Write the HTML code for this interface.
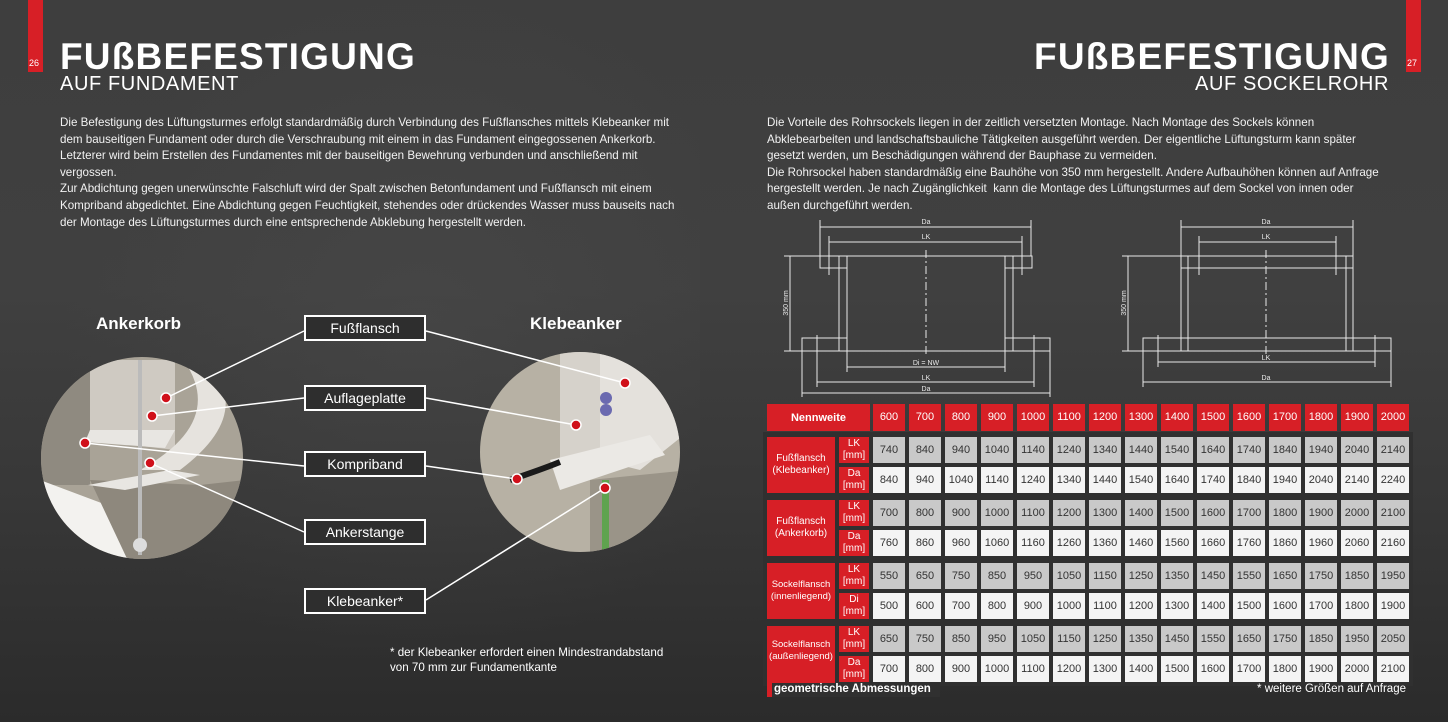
<!DOCTYPE html>
<html><head><meta charset="utf-8"><style>
*{margin:0;padding:0;box-sizing:border-box}
body{width:1448px;height:722px;overflow:hidden;position:relative;font-family:"Liberation Sans",sans-serif;color:#fff;
background:linear-gradient(180deg,#3e3e3e 0%,#404040 40%,#373737 70%,#2b2b2b 100%);}
.abs{position:absolute}
.t{font-weight:bold;font-size:37px;letter-spacing:1.2px;line-height:1}
.st{font-size:20px;line-height:1;letter-spacing:0.6px}
.p{font-size:11.6px;line-height:16.6px;white-space:nowrap;color:#f2f2f2}
.lbl{position:absolute;left:304px;width:122px;height:26px;border:2px solid #fff;background:#2e2e2e;font-size:14px;text-align:center;line-height:22px}
.row{position:absolute;left:873px;display:flex;gap:4px}
.row div{width:32px;height:26px;font-size:11px;text-align:center;line-height:26px;color:#333}
.g div{background:#c9c9c9}.w div{background:#f4f4f4}
.h div{background:#d71f26;color:#fff;height:27px;line-height:27px}
.red{background:#d71f26;position:absolute;color:#fff;text-align:center;font-size:10px;line-height:12px;display:flex;align-items:center;justify-content:center}
</style></head><body>
<div class="abs" style="left:0;top:0;width:700px;height:722px;background:radial-gradient(ellipse at 60% 45%,rgba(80,80,80,.35),rgba(0,0,0,0) 60%)"></div>
<div class="abs" style="left:28px;top:0;width:15px;height:72px;background:#d71f26"></div>
<div class="abs" style="left:29px;top:58px;font-size:9px">26</div>
<div class="abs" style="left:1406px;top:0;width:15px;height:72px;background:#d71f26"></div>
<div class="abs" style="left:1407px;top:58px;font-size:9px">27</div>
<div class="abs t" style="left:60px;top:38px">FUßBEFESTIGUNG</div>
<div class="abs st" style="left:60px;top:74px">AUF FUNDAMENT</div>
<div class="abs t" style="right:58px;top:38px">FUßBEFESTIGUNG</div>
<div class="abs st" style="right:59px;top:74px">AUF SOCKELROHR</div>
<div class="abs p" style="left:60px;top:115px">Die Befestigung des Lüftungsturmes erfolgt standardmäßig durch Verbindung des Fußflansches mittels Klebeanker mit<br>dem bauseitigen Fundament oder durch die Verschraubung mit einem in das Fundament eingegossenen Ankerkorb.<br>Letzterer wird beim Erstellen des Fundamentes mit der bauseitigen Bewehrung verbunden und anschließend mit<br>vergossen.<br>Zur Abdichtung gegen unerwünschte Falschluft wird der Spalt zwischen Betonfundament und Fußflansch mit einem<br>Kompriband abgedichtet. Eine Abdichtung gegen Feuchtigkeit, stehendes oder drückendes Wasser muss bauseits nach<br>der Montage des Lüftungsturmes durch eine entsprechende Abklebung hergestellt werden.</div>
<div class="abs p" style="left:767px;top:115px">Die Vorteile des Rohrsockels liegen in der zeitlich versetzten Montage. Nach Montage des Sockels können<br>Abklebearbeiten und landschaftsbauliche Tätigkeiten ausgeführt werden. Der eigentliche Lüftungsturm kann später<br>gesetzt werden, um Beschädigungen während der Bauphase zu vermeiden.<br>Die Rohrsockel haben standardmäßig eine Bauhöhe von 350 mm hergestellt. Andere Aufbauhöhen können auf Anfrage<br>hergestellt werden. Je nach Zugänglichkeit&nbsp; kann die Montage des Lüftungsturmes auf dem Sockel von innen oder<br>außen durchgeführt werden.</div>

<div class="abs" style="left:96px;top:314px;font-size:17px;font-weight:bold">Ankerkorb</div>
<div class="abs" style="left:530px;top:314px;font-size:17px;font-weight:bold">Klebeanker</div>

<svg class="abs" style="left:0;top:0" width="760" height="722">
<defs>
<clipPath id="c1"><circle cx="142" cy="458" r="101"/></clipPath>
<clipPath id="c2"><circle cx="580" cy="452" r="100"/></clipPath>
</defs>
<g clip-path="url(#c1)">
<rect x="40" y="355" width="205" height="210" fill="#a9a397"/>
<rect x="40" y="355" width="50" height="130" fill="#8f8a80"/>
<path d="M90 360 L175 360 L175 450 L90 440Z" fill="#cfcac2"/>
<path d="M180 355 Q230 420 140 470 L180 470 Q260 410 200 355Z" fill="#e6e3de"/>
<path d="M90 430 L175 430 L165 448 L85 442Z" fill="#e8e6e2"/>
<path d="M40 480 L120 510 L130 570 L40 570Z" fill="#f3f2ef"/>
<path d="M90 480 L200 485 L245 480 L245 565 L130 565 Z" fill="#8e887d"/>
<path d="M88 485 L170 470 L200 475 L125 490Z" fill="#e8e6e2"/>
<rect x="138" y="360" width="4" height="195" fill="#bbb"/>
<circle cx="140" cy="545" r="7" fill="#ddd"/>
</g>
<g clip-path="url(#c2)">
<rect x="478" y="350" width="205" height="205" fill="#b7b1a4"/>
<path d="M560 352 L600 352 L600 460 L560 460Z" fill="#d6d2cb"/>
<path d="M600 352 L690 352 L690 430 L640 470 L600 460Z" fill="#e4e1dc"/>
<path d="M550 460 L650 435 L665 455 L560 490Z" fill="#ebe9e5"/>
<path d="M590 480 L690 470 L690 555 L590 555Z" fill="#9a9488"/>
<path d="M510 480 Q540 470 560 462" stroke="#1a1a1a" stroke-width="6" fill="none"/>
<rect x="602" y="480" width="7" height="70" fill="#5fa34f"/>
<circle cx="606" cy="398" r="6" fill="#6b6ab0"/><circle cx="606" cy="410" r="6" fill="#6b6ab0"/>
</g>
<g stroke="#fff" stroke-width="1.5" fill="none">
<line x1="304" y1="331" x2="166" y2="398"/><line x1="426" y1="331" x2="625" y2="383"/>
<line x1="304" y1="398" x2="152" y2="416"/><line x1="426" y1="398" x2="576" y2="425"/>
<line x1="304" y1="466" x2="85" y2="443"/><line x1="426" y1="466" x2="517" y2="479"/>
<line x1="304" y1="532" x2="150" y2="463"/><line x1="426" y1="600" x2="605" y2="488"/>
</g>
<g fill="#d0101a" stroke="#fff" stroke-width="1.5">
<circle cx="166" cy="398" r="5"/><circle cx="152" cy="416" r="5"/><circle cx="85" cy="443" r="5"/><circle cx="150" cy="463" r="5"/>
<circle cx="625" cy="383" r="5"/><circle cx="576" cy="425" r="5"/><circle cx="517" cy="479" r="5"/><circle cx="605" cy="488" r="5"/>
</g>
</svg>
<div class="lbl" style="top:315px">Fußflansch</div>
<div class="lbl" style="top:385px">Auflageplatte</div>
<div class="lbl" style="top:451px">Kompriband</div>
<div class="lbl" style="top:519px">Ankerstange</div>
<div class="lbl" style="top:588px">Klebeanker*</div>
<div class="abs" style="left:390px;top:645px;font-size:11.6px;line-height:15px">* der Klebeanker erfordert einen Mindestrandabstand<br>von 70 mm zur Fundamentkante</div>

<svg class="abs" style="left:0;top:0" width="1448" height="722">
<g stroke="#e8e8e8" stroke-width="1" fill="none">
<rect x="820" y="256" width="27" height="12"/><rect x="1005" y="256" width="27" height="12"/>
<line x1="847" y1="256" x2="1005" y2="256"/>
<rect x="839" y="256" width="8" height="95"/><rect x="1005" y="256" width="8" height="95"/>
<rect x="802" y="338" width="45" height="13"/><rect x="1005" y="338" width="45" height="13"/>
<line x1="847" y1="351" x2="1005" y2="351"/>
<line x1="926" y1="250" x2="926" y2="356" stroke-dasharray="8 3 2 3"/>
<line x1="820" y1="220" x2="820" y2="256"/><line x1="1031" y1="220" x2="1031" y2="256"/>
<line x1="829" y1="236" x2="829" y2="275"/><line x1="1022" y1="236" x2="1022" y2="275"/>
<line x1="820" y1="227" x2="1031" y2="227"/><line x1="829" y1="242" x2="1022" y2="242"/>
<line x1="790" y1="256" x2="790" y2="351"/><line x1="784" y1="256" x2="820" y2="256"/><line x1="784" y1="351" x2="802" y2="351"/>
<line x1="847" y1="351" x2="847" y2="372"/><line x1="1005" y1="351" x2="1005" y2="372"/>
<line x1="817" y1="335" x2="817" y2="387"/><line x1="1034" y1="335" x2="1034" y2="387"/>
<line x1="802" y1="351" x2="802" y2="397"/><line x1="1050" y1="351" x2="1050" y2="397"/>
<line x1="847" y1="367" x2="1005" y2="367"/><line x1="817" y1="382" x2="1034" y2="382"/><line x1="802" y1="393" x2="1050" y2="393"/>
<rect x="1181" y="256" width="172" height="12"/>
<rect x="1181" y="256" width="7" height="95"/><rect x="1346" y="256" width="7" height="95"/>
<rect x="1143" y="338" width="248" height="13"/>
<line x1="1266" y1="250" x2="1266" y2="356" stroke-dasharray="8 3 2 3"/>
<line x1="1181" y1="220" x2="1181" y2="256"/><line x1="1353" y1="220" x2="1353" y2="256"/>
<line x1="1199" y1="236" x2="1199" y2="275"/><line x1="1336" y1="236" x2="1336" y2="275"/>
<line x1="1181" y1="227" x2="1353" y2="227"/><line x1="1199" y1="242" x2="1336" y2="242"/>
<line x1="1128" y1="256" x2="1128" y2="351"/><line x1="1122" y1="256" x2="1181" y2="256"/><line x1="1122" y1="351" x2="1143" y2="351"/>
<line x1="1158" y1="335" x2="1158" y2="367"/><line x1="1375" y1="335" x2="1375" y2="367"/>
<line x1="1143" y1="351" x2="1143" y2="387"/><line x1="1391" y1="351" x2="1391" y2="387"/>
<line x1="1158" y1="362" x2="1375" y2="362"/><line x1="1143" y1="382" x2="1391" y2="382"/>
</g>
<g fill="#e8e8e8" font-family="Liberation Sans, sans-serif" font-size="7" text-anchor="middle">
<text x="926" y="224">Da</text><text x="926" y="239">LK</text><text x="926" y="365">Di = NW</text><text x="926" y="380">LK</text><text x="926" y="391">Da</text>
<text x="1266" y="224">Da</text><text x="1266" y="239">LK</text><text x="1266" y="360">LK</text><text x="1266" y="380">Da</text>
<text transform="translate(788,303) rotate(-90)">350 mm</text><text transform="translate(1126,303) rotate(-90)">350 mm</text>
</g>
</svg>

<div class="abs" style="left:763px;top:432px;width:650px;height:254px;background:#303030"></div>
<div class="red" style="left:767px;top:404px;width:103px;height:27px;font-size:11px;font-weight:bold">Nennweite</div>
<div class="row h" style="top:404px"><div>600</div><div>700</div><div>800</div><div>900</div><div>1000</div><div>1100</div><div>1200</div><div>1300</div><div>1400</div><div>1500</div><div>1600</div><div>1700</div><div>1800</div><div>1900</div><div>2000</div></div>

<div class="red" style="left:767px;top:437px;width:68px;height:56px">Fußflansch<br>(Klebeanker)</div>
<div class="red" style="left:839px;top:437px;width:30px;height:26px">LK<br>[mm]</div>
<div class="red" style="left:839px;top:467px;width:30px;height:26px">Da<br>[mm]</div>
<div class="row g" style="top:437px"><div>740</div><div>840</div><div>940</div><div>1040</div><div>1140</div><div>1240</div><div>1340</div><div>1440</div><div>1540</div><div>1640</div><div>1740</div><div>1840</div><div>1940</div><div>2040</div><div>2140</div></div>
<div class="row w" style="top:467px"><div>840</div><div>940</div><div>1040</div><div>1140</div><div>1240</div><div>1340</div><div>1440</div><div>1540</div><div>1640</div><div>1740</div><div>1840</div><div>1940</div><div>2040</div><div>2140</div><div>2240</div></div>

<div class="red" style="left:767px;top:500px;width:68px;height:56px">Fußflansch<br>(Ankerkorb)</div>
<div class="red" style="left:839px;top:500px;width:30px;height:26px">LK<br>[mm]</div>
<div class="red" style="left:839px;top:530px;width:30px;height:26px">Da<br>[mm]</div>
<div class="row g" style="top:500px"><div>700</div><div>800</div><div>900</div><div>1000</div><div>1100</div><div>1200</div><div>1300</div><div>1400</div><div>1500</div><div>1600</div><div>1700</div><div>1800</div><div>1900</div><div>2000</div><div>2100</div></div>
<div class="row w" style="top:530px"><div>760</div><div>860</div><div>960</div><div>1060</div><div>1160</div><div>1260</div><div>1360</div><div>1460</div><div>1560</div><div>1660</div><div>1760</div><div>1860</div><div>1960</div><div>2060</div><div>2160</div></div>

<div class="red" style="left:767px;top:563px;width:68px;height:56px;font-size:9.5px">Sockelflansch<br>(innenliegend)</div>
<div class="red" style="left:839px;top:563px;width:30px;height:26px">LK<br>[mm]</div>
<div class="red" style="left:839px;top:593px;width:30px;height:26px">Di<br>[mm]</div>
<div class="row g" style="top:563px"><div>550</div><div>650</div><div>750</div><div>850</div><div>950</div><div>1050</div><div>1150</div><div>1250</div><div>1350</div><div>1450</div><div>1550</div><div>1650</div><div>1750</div><div>1850</div><div>1950</div></div>
<div class="row w" style="top:593px"><div>500</div><div>600</div><div>700</div><div>800</div><div>900</div><div>1000</div><div>1100</div><div>1200</div><div>1300</div><div>1400</div><div>1500</div><div>1600</div><div>1700</div><div>1800</div><div>1900</div></div>

<div class="red" style="left:767px;top:626px;width:68px;height:71px;font-size:9.5px;align-items:flex-start;padding-top:13px">Sockelflansch<br>(außenliegend)</div>
<div class="red" style="left:839px;top:626px;width:30px;height:26px">LK<br>[mm]</div>
<div class="red" style="left:839px;top:656px;width:30px;height:26px">Da<br>[mm]</div>
<div class="row g" style="top:626px"><div>650</div><div>750</div><div>850</div><div>950</div><div>1050</div><div>1150</div><div>1250</div><div>1350</div><div>1450</div><div>1550</div><div>1650</div><div>1750</div><div>1850</div><div>1950</div><div>2050</div></div>
<div class="row w" style="top:656px"><div>700</div><div>800</div><div>900</div><div>1000</div><div>1100</div><div>1200</div><div>1300</div><div>1400</div><div>1500</div><div>1600</div><div>1700</div><div>1800</div><div>1900</div><div>2000</div><div>2100</div></div>
<div class="abs" style="left:772px;top:683px;width:168px;height:14px;background:#303030"></div>
<div class="abs" style="left:774px;top:683px;font-size:11.5px;font-weight:bold">geometrische Abmessungen</div>
<div class="abs" style="right:42px;top:683px;font-size:11.5px">* weitere Größen auf Anfrage</div>
</body></html>
